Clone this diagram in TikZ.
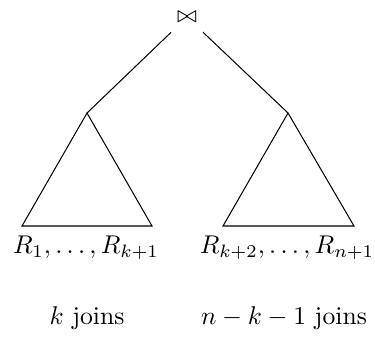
\documentclass[tikz,border=0pt]{standalone}
\begin{document}
\begin{tikzpicture}[x=0.39pt,y=-0.39pt]
        \useasboundingbox (0,0) rectangle (375,336);
        %nodo di join
        \node[inner sep=0pt,minimum size=12pt] (join) at (187,17) {\small$\bowtie$};
        %sottoalbero sinistro
        \coordinate (ltop) at (87,113);
        \coordinate (lleft) at (22,226);
        \coordinate (lright) at (152,226);
        \draw (join)--(ltop);
        \draw (ltop)--(lleft)--(lright)--cycle;
        %sottoalbero destro
        \coordinate (rtop) at (288,113);
        \coordinate (rleft) at (223,226);
        \coordinate (rright) at (354,226);
        \draw (join)--(rtop);
        \draw (rtop)--(rleft)--(rright)--cycle;
        %etichette
        \node (lrel) at (86,248) {$R_1,\ldots,R_{k+1}$};
        \node (rrel) at (287,248) {$R_{k+2},\ldots,R_{n+1}$};
        \node (ljoins) at (87,318) {$k$ joins};
        \node (rjoins) at (284,318) {$n-k-1$ joins};
\end{tikzpicture}
\end{document}
